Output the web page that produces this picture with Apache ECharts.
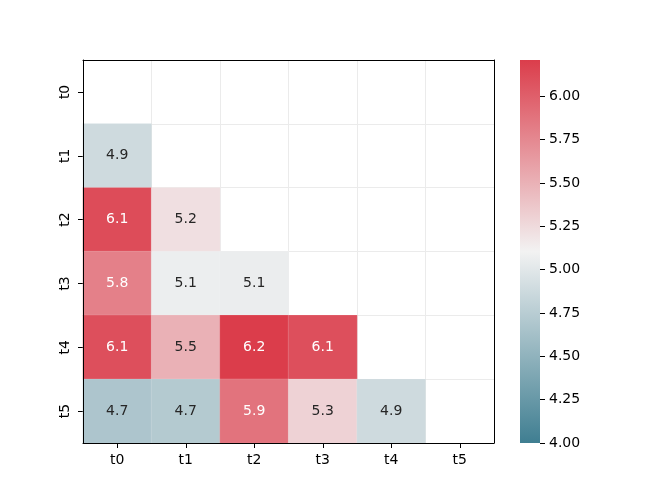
<!DOCTYPE html>
<html>
<head>
<meta charset="utf-8">
<script src="https://cdn.jsdelivr.net/npm/echarts@6/dist/echarts.min.js"></script>
<style>
  html, body { margin: 0; padding: 0; background: #fff; }
  #chart { width: 664px; height: 498px; }
</style>
</head>
<body>
<div id="chart"></div>
<script>
// categories on both axes
const labels = ['t0', 't1', 't2', 't3', 't4', 't5'];
// lower triangle, row i has i values (columns t0..t(i-1))
const rowValues = [
  [],
  [4.88],
  [6.12, 5.22],
  [5.80, 5.07, 5.06],
  [6.10, 5.50, 6.21, 6.10],
  [4.68, 4.72, 5.88, 5.30, 4.88]
];
const colorMin = 4.0;
const colorMax = 6.21;
const colorTicks = [4.0, 4.25, 4.5, 4.75, 5.0, 5.25, 5.5, 5.75, 6.0];
const palette = ['#3f7e91', '#f2f2f2', '#db3d4b'];
const lightTextAbove = 5.65; // cells darker than this get white text

const FONT = 'DejaVu Sans';

const cells = [];
rowValues.forEach((row, y) => {
  row.forEach((v, x) => {
    cells.push({
      value: [x, y, v],
      label: { color: v > lightTextAbove ? '#ffffff' : '#262626' }
    });
  });
});

// colorbar gradient, same stops as the visualMap (bottom = min)
const barGradient = new echarts.graphic.LinearGradient(0, 1, 0, 0,
  palette.map((c, i) => ({ offset: i / (palette.length - 1), color: c })));

const chart = echarts.init(document.getElementById('chart'), null, { renderer: 'canvas' });

// frame axes sit above the cells so the spines keep full width
const frameAxis = (type, position) => ({
  type: 'category', gridIndex: 0, data: labels, position, z: 5,
  inverse: type === 'y',
  axisLine: { show: true, onZero: false, lineStyle: { color: '#000', width: 1 } },
  axisTick: { show: false }, axisLabel: { show: false }, splitLine: { show: false }
});

chart.setOption({
  animation: false,
  backgroundColor: '#fff',
  textStyle: { fontFamily: FONT },
  grid: [
    { left: 83, top: 60, width: 411, height: 383 },
    { left: 520, top: 60, width: 20, height: 383, show: true, backgroundColor: barGradient, borderWidth: 0 }
  ],
  xAxis: [
    {
      type: 'category', gridIndex: 0, data: labels, position: 'bottom',
      axisLine: { show: false, onZero: false },
      axisTick: { show: true, alignWithLabel: true, length: 5, lineStyle: { color: '#000' } },
      axisLabel: { color: '#000', fontSize: 14, fontFamily: FONT, margin: 10 },
      splitLine: { show: true, interval: 0, lineStyle: { color: '#ebebeb', width: 1 } }
    },
    frameAxis('x', 'top'),
    frameAxis('x', 'bottom'),
    {
      type: 'value', gridIndex: 1, show: false
    }
  ],
  yAxis: [
    {
      type: 'category', gridIndex: 0, data: labels, inverse: true, position: 'left',
      axisLine: { show: false, onZero: false },
      axisTick: { show: true, alignWithLabel: true, length: 5, lineStyle: { color: '#000' } },
      axisLabel: { color: '#000', fontSize: 14, fontFamily: FONT, rotate: 90, margin: 11 },
      splitLine: { show: true, interval: 0, lineStyle: { color: '#ebebeb', width: 1 } }
    },
    frameAxis('y', 'right'),
    frameAxis('y', 'left'),
    {
      type: 'value', gridIndex: 1, position: 'right', min: colorMin, max: colorMax,
      axisLine: { show: false, onZero: false },
      axisTick: { show: true, length: 5, customValues: colorTicks, lineStyle: { color: '#000' } },
      axisLabel: {
        color: '#000', fontSize: 14, fontFamily: FONT, margin: 9,
        customValues: colorTicks,
        formatter: v => v.toFixed(2)
      },
      splitLine: { show: false }
    }
  ],
  visualMap: {
    type: 'continuous',
    show: false,
    seriesIndex: 0,
    min: colorMin,
    max: colorMax,
    inRange: { color: palette }
  },
  series: [
    {
      type: 'heatmap',
      xAxisIndex: 0,
      yAxisIndex: 0,
      data: cells,
      itemStyle: { borderColor: 'rgba(255,255,255,0.25)', borderWidth: 0.5 },
      label: {
        show: true,
        fontSize: 14,
        fontFamily: FONT,
        formatter: p => p.value[2].toFixed(1)
      },
      emphasis: { disabled: true }
    }
  ]
});
</script>
</body>
</html>
